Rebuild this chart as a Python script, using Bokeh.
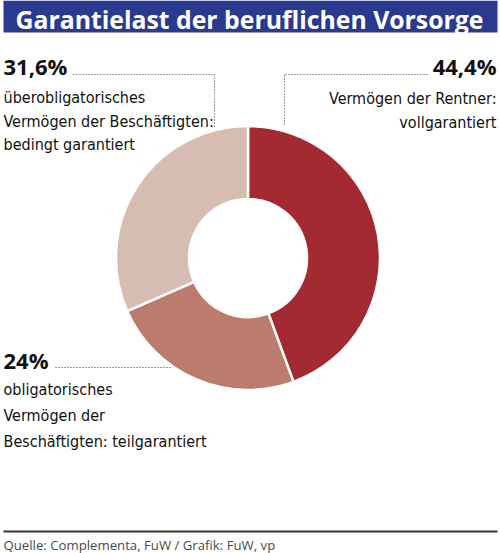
import numpy as np
from bokeh.plotting import figure
from bokeh.models import Range1d, ColumnDataSource
from bokeh.core.properties import value
from bokeh.embed import file_html
from bokeh.resources import INLINE

# ---------------- data ----------------
title = "Garantielast der beruflichen Vorsorge"
segments = ["Rentner", "obligatorisch", "überobligatorisch"]
shares = [44.4, 24.0, 31.6]
share_labels = ["44,4%", "24%", "31,6%"]
desc_rentner = ["Vermögen der Rentner:", "vollgarantiert"]
desc_oblig = ["obligatorisches", "Vermögen der", "Beschäftigten: teilgarantiert"]
desc_ueber = ["überobligatorisches", "Vermögen der Beschäftigten:", "bedingt garantiert"]
colors = ["#a32a33", "#bb7c6e", "#d7bcb2"]
source_text = "Quelle: Complementa, FuW / Grafik: FuW, vp"

# ---------------- layout helpers (reference pixel space, y down) ----------------
W, H = 500, 553
def Y(v):
    return H - v

BOLD = value("Open Sans")
NARROW = value("DejaVu Sans Condensed, Roboto")

p = figure(width=W, height=H, x_range=Range1d(0, W), y_range=Range1d(0, H),
           output_backend="svg", toolbar_location=None, min_border=0,
           x_axis_type=None, y_axis_type=None)
p.grid.visible = False
p.outline_line_color = None
p.background_fill_color = "white"
p.border_fill_color = "white"

# baseline corrections (renderer places text slightly lower than the given baseline)
T_OFF, P_OFF, R_OFF, F_OFF = 6.5, 8.5, 6.0, 4.0

# title banner
p.quad(left=3, right=497, bottom=Y(32), top=Y(0), fill_color="#2a3a8e", line_color=None)
p.text(x=[15], y=[Y(25 - T_OFF)], text=[title], text_color="white", text_font=BOLD,
       text_font_style="bold", text_font_size="24.8px", text_baseline="alphabetic")

# donut
fr = np.array(shares) / np.sum(shares)
cum = np.concatenate([[0], np.cumsum(fr)])
start = np.pi / 2 - 2 * np.pi * cum[:-1]
end = np.pi / 2 - 2 * np.pi * cum[1:]
src = ColumnDataSource(dict(seg=segments, share=shares, start=start, end=end, color=colors))
cx, cy = 247.5, Y(257.5)
p.annular_wedge(x=cx, y=cy, inner_radius=59, outer_radius=132, start_angle="start",
                end_angle="end", direction="clock", fill_color="color",
                line_color="white", line_width=2.5, source=src)

# leader lines
dot = dict(line_color="#333333", line_width=1, line_dash="1 2")
p.line([73, 214, 214], [Y(74), Y(74), Y(126)], **dot)
p.line([427, 284, 284], [Y(74), Y(74), Y(126)], **dot)
p.line([55, 172], [Y(367), Y(367)], **dot)

# percentage labels
pct = dict(text_font=BOLD, text_font_style="bold", text_font_size="22px",
           text_color="#111111", text_baseline="alphabetic")
p.text(x=[3], y=[Y(74 - P_OFF)], text=[share_labels[2]], text_align="left", **pct)
p.text(x=[496], y=[Y(74 - P_OFF)], text=[share_labels[0]], text_align="right", **pct)
p.text(x=[3], y=[Y(368 - P_OFF)], text=[share_labels[1]], text_align="left", **pct)

# description labels
reg = dict(text_font=NARROW, text_font_size="16px", text_color="#111111",
           text_baseline="alphabetic")
p.text(x=[3] * 3, y=[Y(v - R_OFF) for v in (103, 127, 150)], text=desc_ueber,
       text_align="left", **reg)
p.text(x=[496] * 2, y=[Y(v - R_OFF) for v in (104, 128)], text=desc_rentner,
       text_align="right", **reg)
p.text(x=[3] * 3, y=[Y(v - R_OFF) for v in (395, 421, 447)], text=desc_oblig,
       text_align="left", **reg)

# footer
p.line([3, 497], [Y(531), Y(531)], line_color="#333333", line_width=2)
p.text(x=[3], y=[Y(548 - F_OFF)], text=[source_text], text_font=value("Open Sans"),
       text_font_size="13.2px", text_color="#4a4a4a", text_baseline="alphabetic")

open("out.html", "w").write(file_html(p, INLINE))
